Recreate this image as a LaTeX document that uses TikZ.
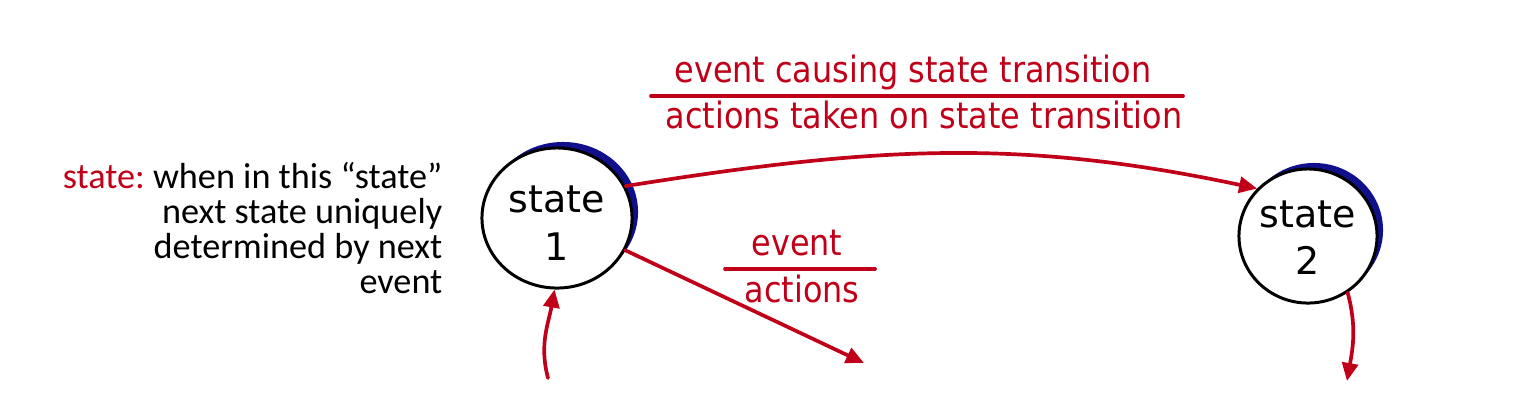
\documentclass[tikz,border=0pt]{standalone}
\usepackage{fontspec}
\setmainfont{Carlito}
\newfontfamily\circlefont{DejaVu Sans}
\newfontfamily\labelfont[FakeStretch=0.88]{DejaVu Sans}
\usetikzlibrary{arrows.meta,shapes.geometric,shadows}
\definecolor{fsmred}{RGB}{192,0,24}
\definecolor{shadowblue}{RGB}{16,16,140}

\begin{document}
\begin{tikzpicture}[x=0.01cm,y=-0.01cm,>={Triangle[length=1.8mm,width=1.6mm]},line cap=round,
  statenode/.style={ellipse,draw,line width=0.85pt,fill=white,inner sep=0pt,
    font=\circlefont\fontsize{10.8}{13.4}\selectfont,
    drop shadow={shadow xshift=0.06cm,shadow yshift=0.06cm,fill=shadowblue,opacity=1}},
  trans/.style={->,draw=fsmred,line width=1.05pt},
  evlabel/.style={text=fsmred,font=\labelfont\fontsize{10.3}{12}\selectfont,inner sep=0pt}]
\useasboundingbox (0,0) rectangle (1514,411);
% states
\node[statenode,minimum width=1.5cm,minimum height=1.4cm] (s1) at (557,218)
  {\raisebox{-5.3pt}[0pt][0pt]{\begin{tabular}{@{}c@{}}state\\1\end{tabular}}};
\node[statenode,minimum width=1.38cm,minimum height=1.34cm] (s2) at (1308,236)
  {\raisebox{-4.2pt}[0pt][0pt]{\begin{tabular}{@{}c@{}}state\\2\end{tabular}}};
% text on the left
\node[anchor=east,align=right,inner sep=0pt,font=\fontsize{10.3}{10}\selectfont\frenchspacing] (desc) at (443,228)
  {\textcolor{fsmred}{state:} when in this “state”\\next state uniquely\\determined by next\\event};
% labels
\node[evlabel,anchor=base] (ev1) at (913,82) {event causing state transition};
\node[evlabel,anchor=base] (act1) at (924,128) {actions taken on state transition};
\draw[fsmred,line width=1.05pt] (651,96) -- (1183,96);
\node[evlabel,anchor=base] (ev2) at (797,255) {event};
\node[evlabel,anchor=base] (act2) at (802,302) {actions};
\draw[fsmred,line width=1.05pt] (725,269) -- (875,269);
% transitions
\coordinate (in1) at (548,378);
\coordinate (out1) at (864,363);
\coordinate (out2) at (1347,381);
\draw[trans] (s1.25) to[out=9,in=168] (s2.137);
\draw[trans] (s1) -- (out1);
\draw[trans] (in1) to[out=105,in=-100] (s1.-92);
\draw[trans] (s2.-55) to[out=-75,in=80] (out2);
\end{tikzpicture}
\end{document}
